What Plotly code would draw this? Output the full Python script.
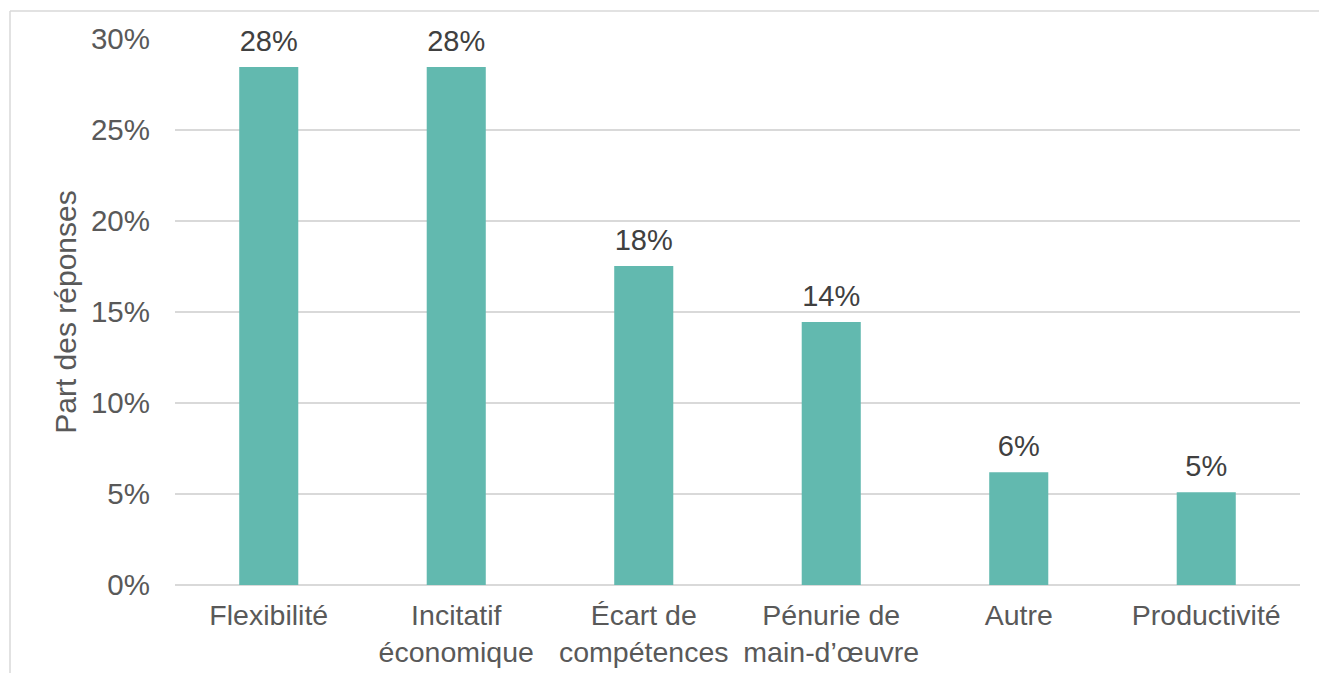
import plotly.graph_objects as go

categories = ["Flexibilité", "Incitatif<br>économique", "Écart de<br>compétences",
              "Pénurie de<br>main-d’œuvre", "Autre", "Productivité"]
shares = [0.2846, 0.2846, 0.1753, 0.1445, 0.062, 0.051]
y_ticks = [0, 0.05, 0.10, 0.15, 0.20, 0.25, 0.30]

FONT = "Liberation Sans, Arial, sans-serif"
W, H = 1327, 673
OFF = 8  # page body margin offset
L, R, T, B = 175 - OFF, 27 + OFF, 39 - OFF, 88 + OFF
pw, ph = W - L - R, H - T - B

fig = go.Figure()
fig.add_trace(go.Bar(
    x=categories, y=shares,
    marker=dict(color="#62B9AF", line=dict(width=0)),
    hoverinfo="x+y",
))
fig.add_trace(go.Scatter(
    x=categories, y=shares, mode="markers+text",
    marker=dict(size=13, opacity=0),
    texttemplate="%{y:.0%}", textposition="top center",
    textfont=dict(family=FONT, size=29, color="#404040"),
    cliponaxis=False, hoverinfo="skip",
))

def px_x(p):
    return (p - OFF - L) / pw

def px_y(p):
    return (H - B - (p - OFF)) / ph

border = dict(color="#d9d9d9", width=1.5)
shapes = [
    dict(type="line", xref="paper", yref="paper", x0=px_x(10), x1=px_x(10),
         y0=px_y(H + 20), y1=px_y(11), line=border),
    dict(type="line", xref="paper", yref="paper", x0=px_x(10), x1=px_x(W + 20),
         y0=px_y(11), y1=px_y(11), line=border),
]

fig.update_layout(
    width=W, height=H,
    margin=dict(l=L, r=R, t=T, b=B, autoexpand=False),
    paper_bgcolor="white", plot_bgcolor="white",
    bargap=0.685,
    showlegend=False,
    font=dict(family=FONT, size=29, color="#595959"),
    shapes=shapes,
    xaxis=dict(showgrid=False, showline=False, ticks="", automargin=False,
               ticklabelstandoff=10,
               tickfont=dict(size=28.5, color="#595959")),
    yaxis=dict(range=[0, 0.30], tickvals=y_ticks, tickformat=".0%",
               showgrid=True, gridcolor="#d9d9d9", gridwidth=1.5,
               zeroline=True, zerolinecolor="#d9d9d9", zerolinewidth=1.5,
               showline=False, ticks="", ticklabelstandoff=24, automargin=False,
               tickfont=dict(size=29.5, color="#595959"),
               title=dict(text="Part des réponses", standoff=5,
                          font=dict(size=30, color="#595959"))),
)

fig.write_html("out.html")
